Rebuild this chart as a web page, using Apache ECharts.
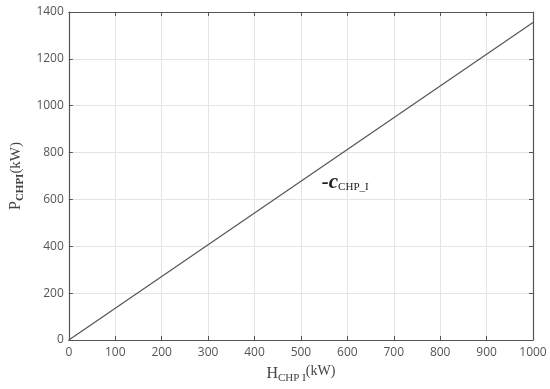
<!DOCTYPE html>
<html><head><meta charset="utf-8">
<script src="https://cdn.jsdelivr.net/npm/echarts@6/dist/echarts.min.js"></script>
<style>html,body{margin:0;padding:0;background:#fff}#c{width:550px;height:389px}</style>
</head><body><div id="c"></div>
<script>
var xValues = [0, 1000];
var yValues = [0, 1355];
var xTicks = [0,100,200,300,400,500,600,700,800,900,1000];
var yTicks = [0,200,400,600,800,1000,1200,1400];
var annotation = {x: 545, y: 672};

var chart = echarts.init(document.getElementById('c'));
var axisCommon = {
  axisLine: {show: true, onZero: false, lineStyle: {color: '#555', width: 1.2}},
  axisTick: {show: true, inside: true, length: 4, lineStyle: {color: '#555'}},
  splitLine: {show: true, lineStyle: {color: '#e4e4e4', width: 1}},
  axisLabel: {color: '#555', fontFamily: 'Open Sans', fontSize: 12, formatter: function(v){ return String(v); }}
};
chart.setOption({
  animation: false,
  grid: {left: 62, right: 17, top: 12, bottom: 47, show: false},
  xAxis: [Object.assign({}, axisCommon, {
    type: 'value', min: 0, max: 1000, interval: 100, position: 'bottom',
    name: '{m|H}{s|CHP I}{p|(kW)}', nameLocation: 'middle', nameGap: 24,
    nameTextStyle: {rich: {
      m: {fontFamily: 'Liberation Serif', fontSize: 16, color: '#444'},
      s: {fontFamily: 'Liberation Serif', fontSize: 11, color: '#444', verticalAlign: 'bottom', padding: [8,0,0,0]},
      p: {fontFamily: 'Liberation Serif', fontSize: 14, color: '#444', verticalAlign: 'top', padding: [0,0,6,0]}
    }},
    axisLabel: Object.assign({}, axisCommon.axisLabel, {margin: 7})
  }), {
    type: 'value', min: 0, max: 1000, interval: 100, position: 'top',
    axisLine: {show: true, onZero: false, lineStyle: {color: '#555', width: 1.2}},
    axisTick: {show: true, inside: true, length: 4, lineStyle: {color: '#555'}},
    axisLabel: {show: false}, splitLine: {show: false}
  }],
  yAxis: [Object.assign({}, axisCommon, {
    type: 'value', min: 0, max: 1400, interval: 200, position: 'left',
    name: '{m|P}{s|CHPI}{p|(kW)}', nameLocation: 'middle', nameGap: 42, nameRotate: 90,
    nameTextStyle: {rich: {
      m: {fontFamily: 'Liberation Serif', fontSize: 16, color: '#444'},
      s: {fontFamily: 'Liberation Serif', fontSize: 11, color: '#444', fontWeight: 'bold', verticalAlign: 'bottom', padding: [8,0,0,0]},
      p: {fontFamily: 'Liberation Serif', fontSize: 15, color: '#444'}
    }},
    axisLabel: Object.assign({}, axisCommon.axisLabel, {margin: 5})
  }), {
    type: 'value', min: 0, max: 1400, interval: 200, position: 'right',
    axisLine: {show: true, onZero: false, lineStyle: {color: '#555', width: 1.2}},
    axisTick: {show: true, inside: true, length: 4, lineStyle: {color: '#555'}},
    axisLabel: {show: false}, splitLine: {show: false}
  }],
  series: [{
    type: 'line', xAxisIndex: 0, yAxisIndex: 0, symbol: 'none',
    lineStyle: {color: '#555', width: 1.2},
    data: xValues.map(function(x, i){ return [x, yValues[i]]; }),
    markPoint: {
      symbol: 'circle', symbolSize: 0,
      data: [{coord: [annotation.x, annotation.y]}],
      label: {show: true, position: 'right', distance: 0, formatter: '{a|-c}{b|CHP_I}',
        rich: {
          a: {fontFamily: 'Liberation Serif', fontStyle: 'italic', fontWeight: 'bold', fontSize: 21, color: '#222'},
          b: {fontFamily: 'Liberation Serif', fontSize: 11, color: '#222', verticalAlign: 'bottom', padding: [8,0,0,0]}
        }}
    }
  }]
});
</script></body></html>
